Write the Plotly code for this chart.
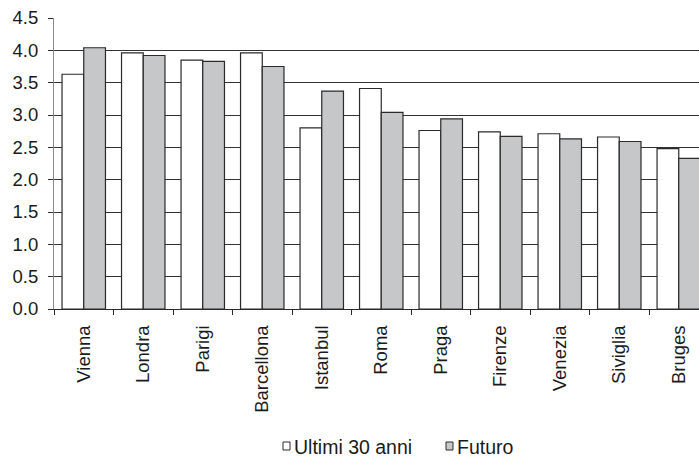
import plotly.graph_objects as go

# Città e valori delle due serie
cities = ["Vienna", "Londra", "Parigi", "Barcellona", "Istanbul", "Roma",
          "Praga", "Firenze", "Venezia", "Siviglia", "Bruges"]
ultimi_30_anni = [3.63, 3.96, 3.85, 3.96, 2.80, 3.41, 2.76, 2.74, 2.71, 2.66, 2.48]
futuro = [4.04, 3.92, 3.83, 3.75, 3.37, 3.04, 2.94, 2.67, 2.63, 2.59, 2.33]
y_ticks = [0.0, 0.5, 1.0, 1.5, 2.0, 2.5, 3.0, 3.5, 4.0, 4.5]
legend_labels = ["Ultimi 30 anni", "Futuro"]

W, H = 699, 457
ML, MR, MT, MB = 54, 0, 18, 148
FONT = "Liberation Sans, Arial, sans-serif"
OUTLINE = "#2a2a2a"
GRAY = "#c6c7c9"

fig = go.Figure()
fig.add_trace(go.Bar(x=cities, y=ultimi_30_anni, name=legend_labels[0],
                     marker=dict(color="white", line=dict(color=OUTLINE, width=1.2))))
fig.add_trace(go.Bar(x=cities, y=futuro, name=legend_labels[1],
                     marker=dict(color=GRAY, line=dict(color=OUTLINE, width=1.2))))

# pixel -> paper helpers for the hand-drawn legend
pw, ph = W - ML - MR, H - MT - MB
def px(x):
    return (x - ML) / pw
def py(y):
    return (H - MB - y) / ph

legend_items = [
    (283, 292, "white"),
    (446, 455, GRAY),
]
for (bx, tx, fill), label in zip(legend_items, legend_labels):
    fig.add_shape(type="rect", xref="paper", yref="paper",
                  x0=px(bx), x1=px(bx + 7), y0=py(450), y1=py(442),
                  fillcolor=fill, line=dict(color=OUTLINE, width=1))
    fig.add_annotation(xref="paper", yref="paper", x=px(tx), y=py(446.5),
                       xanchor="left", yanchor="middle", showarrow=False,
                       text=label, font=dict(family=FONT, size=19.5, color="#1a1a1a"))

fig.update_layout(
    width=W, height=H,
    margin=dict(l=ML, r=MR, t=MT, b=MB, pad=0),
    paper_bgcolor="white", plot_bgcolor="white",
    barmode="group", bargap=0.27, bargroupgap=0,
    showlegend=False,
    font=dict(family=FONT, size=18.5, color="#1a1a1a"),
)
fig.update_xaxes(
    range=[-0.5, 10.34], tickangle=-90, tickson="boundaries",
    ticks="outside", ticklen=5, tickcolor=OUTLINE, tickwidth=1,
    showline=True, linecolor=OUTLINE, linewidth=1,
    showgrid=False, ticklabelstandoff=8,
)
fig.update_yaxes(
    range=[0, 4.5], tickvals=y_ticks, ticktext=[f"{v:.1f}" for v in y_ticks],
    ticks="outside", ticklen=5, tickcolor=OUTLINE, tickwidth=1,
    showline=True, linecolor="#8a8a8a", linewidth=1,
    showgrid=True, gridcolor="#333333", gridwidth=1,
    zeroline=False, ticklabelstandoff=6,
)

fig.write_html("out.html")
